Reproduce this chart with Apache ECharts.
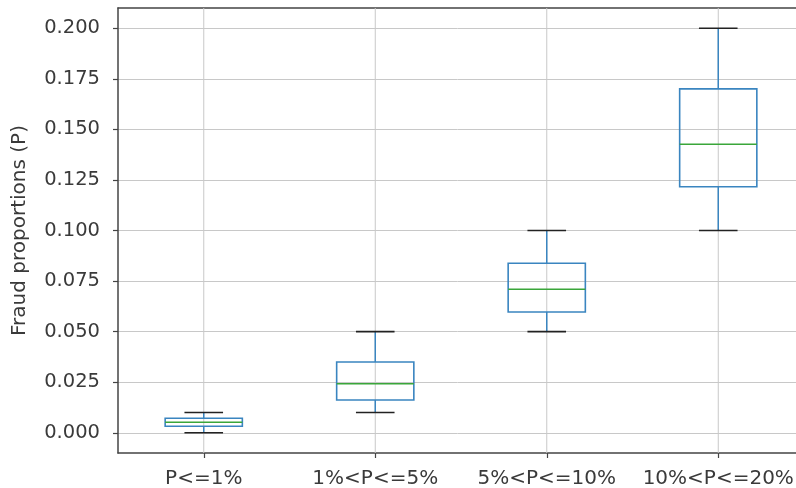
<!DOCTYPE html>
<html>
<head>
<meta charset="utf-8">
<script src="https://cdn.jsdelivr.net/npm/echarts@6/dist/echarts.min.js"></script>
<style>
html,body{margin:0;padding:0;background:#fff;}
#chart{width:796px;height:488px;}
</style>
</head>
<body>
<div id="chart"></div>
<script>
var categories = ['P<=1%', '1%<P<=5%', '5%<P<=10%', '10%<P<=20%'];
var whiskerLow = [0.000, 0.010, 0.050, 0.100];
var q1 = [0.0032, 0.0162, 0.0597, 0.1216];
var median = [0.0052, 0.0242, 0.0710, 0.1426];
var q3 = [0.0072, 0.0350, 0.0838, 0.1700];
var whiskerHigh = [0.010, 0.050, 0.100, 0.200];
var yTicks = [0, 0.025, 0.05, 0.075, 0.1, 0.125, 0.15, 0.175, 0.2];
var yMin = -0.01, yMax = 0.21;

var FONT = 'DejaVu Sans';
var boxData = categories.map(function (c, i) {
  return [i, whiskerLow[i], q1[i], median[i], q3[i], whiskerHigh[i]];
});

function renderItem(params, api) {
  var idx = api.value(0);
  var band = api.size([1, 0])[0];
  var bw = band * 0.45;
  var cw = bw * 0.5;
  var pLow = api.coord([idx, api.value(1)]);
  var pQ1 = api.coord([idx, api.value(2)]);
  var pMed = api.coord([idx, api.value(3)]);
  var pQ3 = api.coord([idx, api.value(4)]);
  var pHigh = api.coord([idx, api.value(5)]);
  var gBot = api.coord([idx, yMin]);
  var gTop = api.coord([idx, yMax]);
  var x = pMed[0];
  var blue = '#3a85c0';
  return {
    type: 'group',
    children: [
      {type: 'line', z2: -1, shape: {x1: x, y1: gTop[1], x2: x, y2: gBot[1]}, style: {stroke: '#c8c8c8', lineWidth: 1}},
      {type: 'line', shape: {x1: x, y1: pQ3[1], x2: x, y2: pHigh[1]}, style: {stroke: blue, lineWidth: 1.5}},
      {type: 'line', shape: {x1: x, y1: pQ1[1], x2: x, y2: pLow[1]}, style: {stroke: blue, lineWidth: 1.5}},
      {type: 'line', shape: {x1: x - cw / 2, y1: pHigh[1], x2: x + cw / 2, y2: pHigh[1]}, style: {stroke: '#222', lineWidth: 1.6}},
      {type: 'line', shape: {x1: x - cw / 2, y1: pLow[1], x2: x + cw / 2, y2: pLow[1]}, style: {stroke: '#222', lineWidth: 1.6}},
      {type: 'rect', shape: {x: x - bw / 2, y: pQ3[1], width: bw, height: pQ1[1] - pQ3[1]}, style: {fill: 'none', stroke: blue, lineWidth: 1.6}},
      {type: 'line', shape: {x1: x - bw / 2, y1: pMed[1], x2: x + bw / 2, y2: pMed[1]}, style: {stroke: '#3aa63a', lineWidth: 1.5}}
    ]
  };
}

var chart = echarts.init(document.getElementById('chart'), null, {renderer: 'canvas'});
chart.setOption({
  animation: false,
  backgroundColor: '#ffffff',
  grid: {left: 118, top: 8, width: 686, height: 445, outerBoundsMode: 'none', containLabel: false, show: false},
  xAxis: [{
    type: 'category',
    data: categories,
    boundaryGap: true,
    axisLine: {show: true, onZero: false, lineStyle: {color: '#444', width: 1.5}},
    axisTick: {show: true, interval: 0, alignWithLabel: true, length: 5, lineStyle: {color: '#444', width: 1.2}},
    axisLabel: {fontFamily: FONT, fontSize: 20, color: '#3a3a3a', margin: 16, interval: 0, hideOverlap: false},
    splitLine: {show: false}
  }, {
    type: 'category',
    data: categories,
    position: 'top',
    axisLine: {show: true, onZero: false, lineStyle: {color: '#444', width: 1.5}},
    axisTick: {show: false},
    axisLabel: {show: false},
    splitLine: {show: false}
  }],
  yAxis: {
    type: 'value',
    min: yMin,
    max: yMax,
    name: 'Fraud proportions (P)',
    nameLocation: 'middle',
    nameGap: 88,
    nameTextStyle: {fontFamily: FONT, fontSize: 20, color: '#3a3a3a'},
    axisLine: {show: true, lineStyle: {color: '#444', width: 1.5}},
    axisTick: {show: true, length: 5, customValues: yTicks, lineStyle: {color: '#444', width: 1.2}},
    axisLabel: {
      fontFamily: FONT, fontSize: 19.5, color: '#3a3a3a', margin: 18,
      customValues: yTicks,
      formatter: function (v) { return v.toFixed(3); }
    },
    splitLine: {show: true, lineStyle: {color: '#c8c8c8', width: 1}}
  },
  series: [{
    type: 'custom',
    xAxisIndex: 0,
    renderItem: renderItem,
    encode: {x: 0, y: [1, 2, 3, 4, 5]},
    data: boxData
  }]
});
</script>
</body>
</html>
